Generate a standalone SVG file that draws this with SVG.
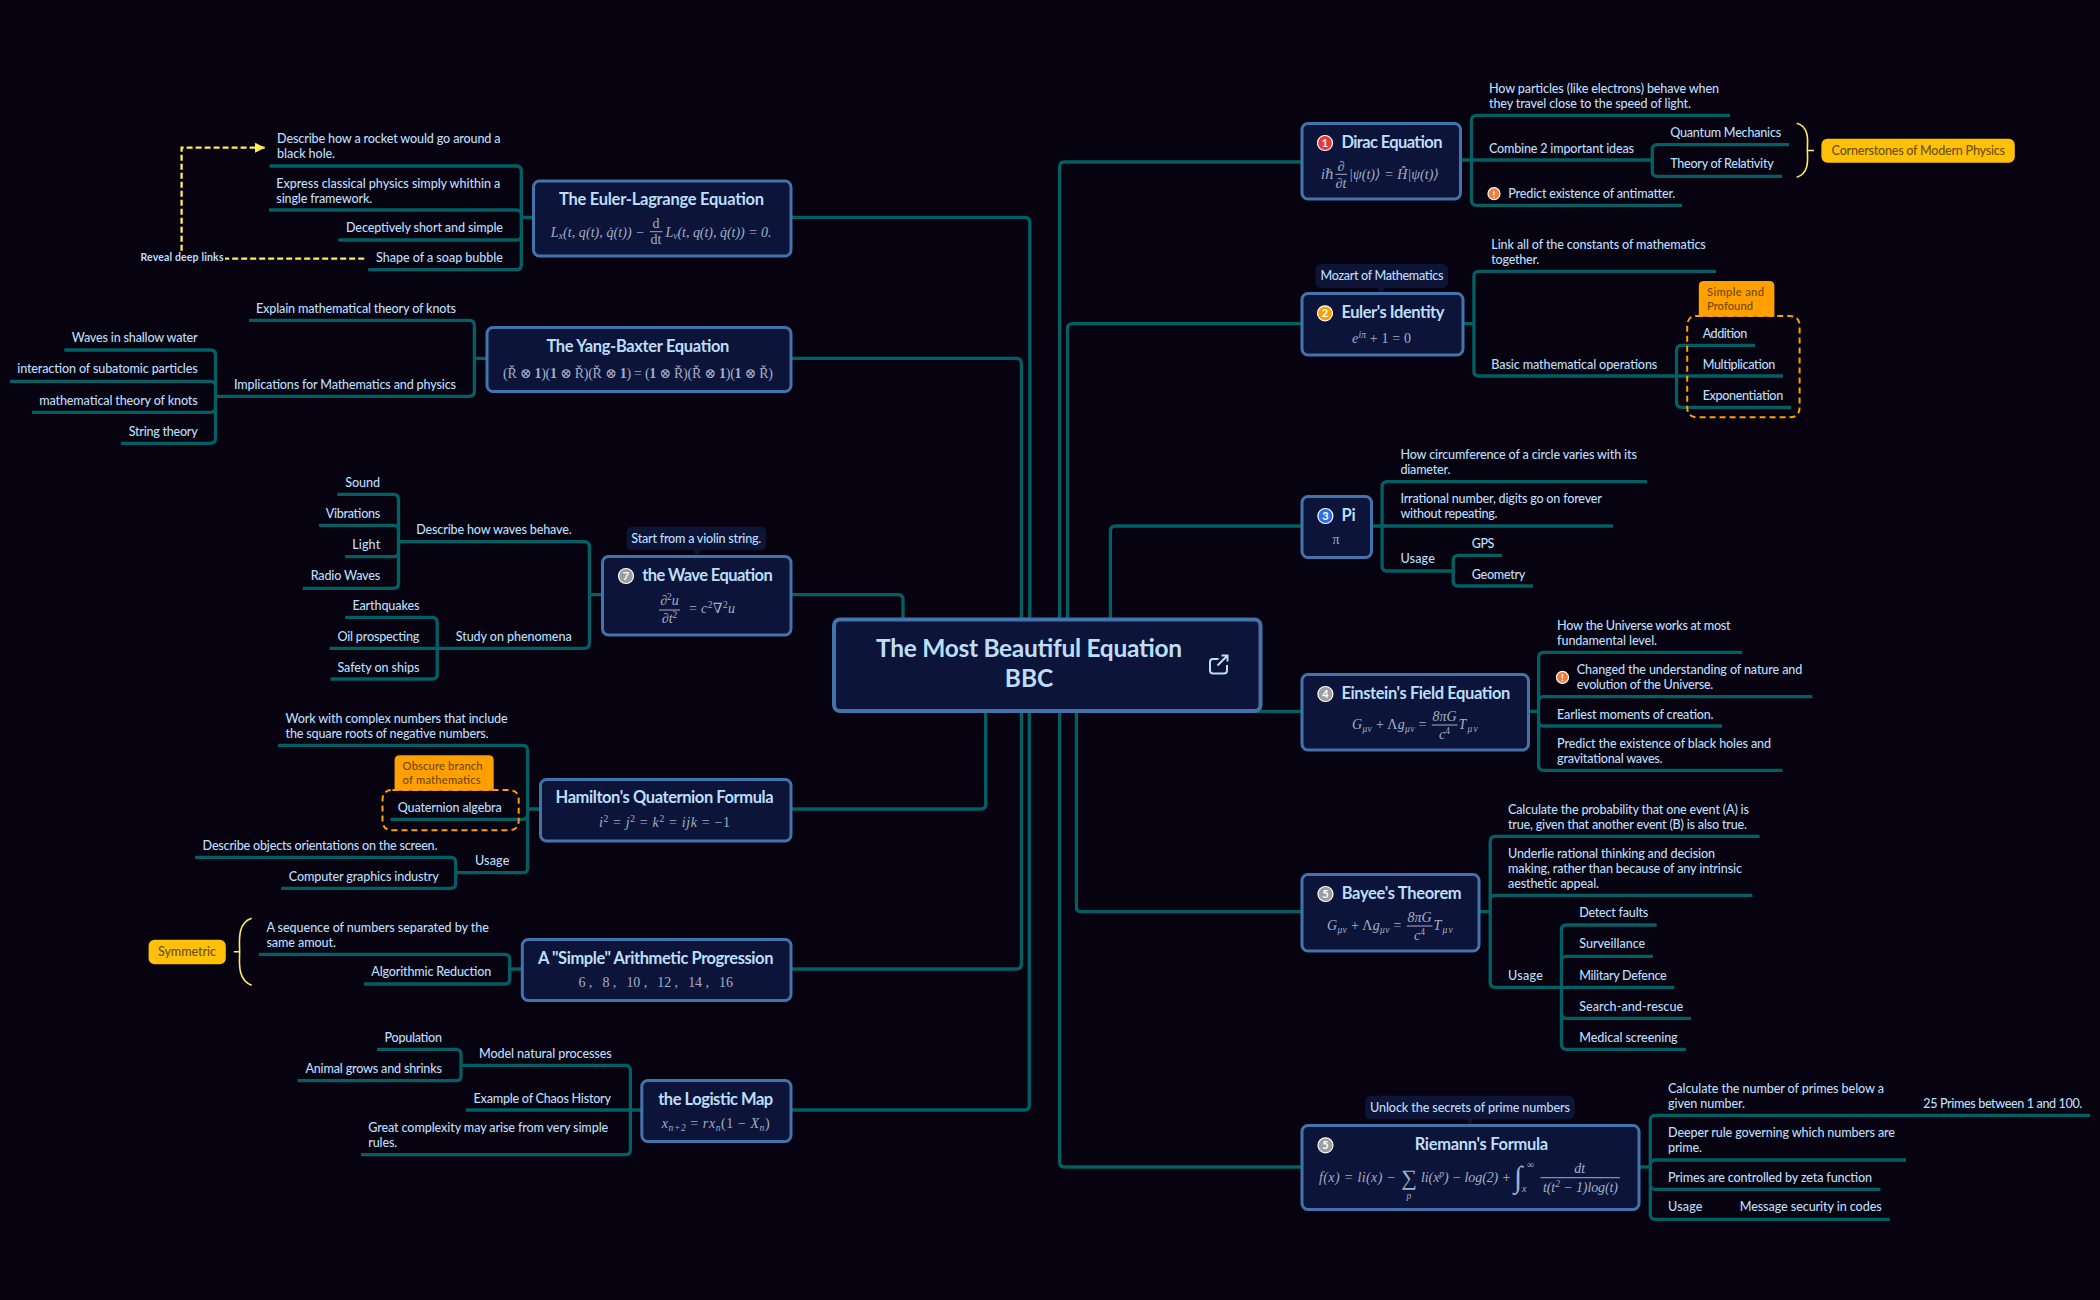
<svg xmlns="http://www.w3.org/2000/svg" width="2100" height="1300" viewBox="0 0 2100 1300">
<style>
text{font-family:"Lato","Liberation Sans",sans-serif;font-size:12.6px;font-weight:500;fill:#bbdefb}
.t{font-size:16.5px;font-weight:700}
.c{font-size:24.5px;font-weight:700;text-anchor:middle}
.m{text-anchor:middle}
.e{text-anchor:end}
.b{fill:#0c1539;stroke:#4273ab;stroke-width:3}
.co{fill:none;stroke:#006064;stroke-width:3.3}
.f{font-family:"Liberation Serif","DejaVu Serif",serif;font-size:14px;font-weight:400;fill:#a3afc6;font-style:italic}
.fn{font-style:normal}
.fl{stroke:#a3afc6;stroke-width:1}
.call{fill:#0d1436}
.dash{fill:none;stroke:#ffa000;stroke-width:2;stroke-dasharray:6 4}
.lab{fill:#ffa000}
.lt{font-size:11.2px;fill:#704800}
.sum{fill:#ffc107}
.st{fill:#6b5008}
.yl{fill:none;stroke:#ffee58;stroke-width:1.6}
.rel{fill:none;stroke:#ffee58;stroke-width:2.3;stroke-dasharray:6 3}
.i{stroke:#fff;stroke-width:1.2}
.n{font-size:11px;font-weight:700;fill:#fff;text-anchor:middle}
</style>
<defs>
<marker id="arr" markerUnits="userSpaceOnUse" markerWidth="11" markerHeight="10" refX="10" refY="5" orient="auto"><path d="M0 0L10 5L0 10Z" fill="#ffee58"/></marker>
</defs>
<rect width="2100" height="1300" fill="#07020f"/>
<g id="connectors">
<path class="co" d="M791 217.3H1024.8Q1029.8 217.3 1029.8 222.3V640M791 358.3H1016.4Q1021.4 358.3 1021.4 363.3V640M791 594.7H898Q903 594.7 903 599.7V640M791 809H980.7Q985.7 809 985.7 804V690M791 969H1016.4Q1021.4 969 1021.4 964V690M791 1110H1024.3Q1029.3 1110 1029.3 1105V690"/>
<path class="co" d="M1302 162H1064.6Q1059.6 162 1059.6 167V1162Q1059.6 1167 1064.6 1167H1302M1302 323.7H1072.5Q1067.5 323.7 1067.5 328.7V640M1302 526H1115.4Q1110.4 526 1110.4 531V640M1250 711.3H1302M1302 911.7H1081.4Q1076.4 911.7 1076.4 906.7V690"/>
<!-- Dirac -->
<path class="co" d="M1460 160H1652M1471.5 160V120.3Q1471.5 115.3 1476.5 115.3H1730M1471.5 160V200.3Q1471.5 205.3 1476.5 205.3H1682M1652.3 160V149.7Q1652.3 144.7 1657.3 144.7H1789M1652.3 160V171.3Q1652.3 176.3 1657.3 176.3H1782"/>
<!-- Euler -->
<path class="co" d="M1463 323.7H1473.9M1473.9 323.7V276.3Q1473.9 271.3 1478.9 271.3H1716M1473.9 323.7V371Q1473.9 376 1478.9 376H1783M1676.5 376V350.3Q1676.5 345.3 1681.5 345.3H1755M1676.5 376V402.3Q1676.5 407.3 1681.5 407.3H1791"/>
<!-- Pi -->
<path class="co" d="M1372 526H1613M1382.1 526V486.7Q1382.1 481.7 1387.1 481.7H1647M1382.1 526V566Q1382.1 571 1387.1 571H1453.2M1453.2 571V560.3Q1453.2 555.3 1458.2 555.3H1502M1453.2 571V581Q1453.2 586 1458.2 586H1533"/>
<!-- Einstein -->
<path class="co" d="M1528.6 711.3H1538.6M1538.6 711.3V657.3Q1538.6 652.3 1543.6 652.3H1742M1538.6 711.3V701.7Q1538.6 696.7 1543.6 696.7H1812.5M1538.6 711.3V721Q1538.6 726 1543.6 726H1722M1538.6 711.3V765.3Q1538.6 770.3 1543.6 770.3H1782.5"/>
<!-- Bayee -->
<path class="co" d="M1479 911.7H1490.2M1490.2 911.7V841.3Q1490.2 836.3 1495.2 836.3H1759.6M1490.2 911.7V900.3Q1490.2 895.3 1495.2 895.3H1752.3M1490.2 911.7V982.3Q1490.2 987.3 1495.2 987.3H1674.3M1561.4 987.3V930Q1561.4 925 1566.4 925H1656.6M1561.4 987.3V961.3Q1561.4 956.3 1566.4 956.3H1652.9M1561.4 987.3V1013.3Q1561.4 1018.3 1566.4 1018.3H1691M1561.4 987.3V1044.3Q1561.4 1049.3 1566.4 1049.3H1686"/>
<!-- Riemann -->
<path class="co" d="M1639 1167H1650.3M1650.3 1167V1120.3Q1650.3 1115.3 1655.3 1115.3H2090M1650.3 1167V1165Q1650.3 1160 1655.3 1160H1906M1650.3 1167V1184.3Q1650.3 1189.3 1655.3 1189.3H1880.4M1650.3 1167V1214.3Q1650.3 1219.3 1655.3 1219.3H1889.8"/>
<!-- Euler-Lagrange -->
<path class="co" d="M533 217.3H521.3M521.3 217.3V171Q521.3 166 516.3 166H269.6M521.3 217.3V215Q521.3 210 516.3 210H269M521.3 217.3V235Q521.3 240 516.3 240H338.3M521.3 217.3V264.7Q521.3 269.7 516.3 269.7H368.2"/>
<!-- Yang-Baxter -->
<path class="co" d="M486.5 358.3H474.4M474.4 358.3V325.3Q474.4 320.3 469.4 320.3H249M474.4 358.3V391.3Q474.4 396.3 469.4 396.3H215.5M215.5 396.3V355Q215.5 350 210.5 350H64.3M215.5 396.3V386.3Q215.5 381.3 210.5 381.3H10M215.5 396.3V407.3Q215.5 412.3 210.5 412.3H32M215.5 396.3V438.3Q215.5 443.3 210.5 443.3H120.8"/>
<!-- Wave -->
<path class="co" d="M602.5 594.7H589.4M589.4 594.7V546.7Q589.4 541.7 584.4 541.7H398.5M589.4 594.7V643.3Q589.4 648.3 584.4 648.3H329.5M398.5 541.7V499.3Q398.5 494.3 393.5 494.3H337.3M398.5 541.7V530.3Q398.5 525.3 393.5 525.3H319M398.5 541.7V551.7Q398.5 556.7 393.5 556.7H345.2M398.5 541.7V583.3Q398.5 588.3 393.5 588.3H302.8M437.2 648.3V622.3Q437.2 617.3 432.2 617.3H345.2M437.2 648.3V674Q437.2 679 432.2 679H330.5"/>
<!-- Hamilton -->
<path class="co" d="M540 809H527.6M527.6 809V750.3Q527.6 745.3 522.6 745.3H278M527.6 809V814.3Q527.6 819.3 522.6 819.3H390.5M527.6 809V867.7Q527.6 872.7 522.6 872.7H455.7M455.7 872.7V862.3Q455.7 857.3 450.7 857.3H195M455.7 872.7V883.3Q455.7 888.3 450.7 888.3H281.2"/>
<!-- Arithmetic -->
<path class="co" d="M521.8 969H509.7M509.7 969V959.3Q509.7 954.3 504.7 954.3H258.8M509.7 969V979Q509.7 984 504.7 984H364.2"/>
<!-- Logistic -->
<path class="co" d="M641.4 1110H466M630.4 1110V1070.3Q630.4 1065.3 625.4 1065.3H461M630.4 1110V1149.7Q630.4 1154.7 625.4 1154.7H361M461 1065.3V1054.3Q461 1049.3 456 1049.3H377M461 1065.3V1075.7Q461 1080.7 456 1080.7H297.5"/>
<!-- boundary and relationship lines -->
<path class="yl" d="M1796.7 123.3C1811 127 1807 145 1807.4 150C1807 155 1811 173 1796.7 177.3M1807.4 150.5H1814"/>
<path class="yl" d="M251.7 918.3C236 923 240 945 239.6 951.7C240 958 236 980 251.7 985.3M239.6 951.7H233.8"/>
<path class="rel" d="M364.2 258.7H225"/>
<path class="rel" d="M181.6 250.7V147.7H265" marker-end="url(#arr)"/>
</g>
<g id="node-root">
<rect class="b" x="834" y="619.5" width="426.5" height="91.5" rx="6" style="stroke-width:4"/>
<text class="c" x="1029" y="657" textLength="306">The Most Beautiful Equation</text>
<text class="c" x="1029" y="686.5">BBC</text>
<path d="M1218.5 659H1213Q1210 659 1210 662V670.5Q1210 673.5 1213 673.5H1224Q1227 673.5 1227 670.5V665M1217.5 665.5L1227.5 655.5M1221.5 655.5H1227.5V661.5" fill="none" stroke="#bbdefb" stroke-width="2"/>
</g>
<g id="node-dirac">
<rect class="b" x="1302" y="123.5" width="158.5" height="75.5" rx="6"/>
<circle class="i" cx="1325" cy="143" r="7.5" fill="#e53935"/><text class="n" x="1325" y="147">1</text>
<text class="t" x="1341.5" y="148" textLength="101">Dirac Equation</text>
<text class="f" x="1321" y="179">iℏ</text>
<text class="f m" x="1341" y="170.5">∂</text><path class="fl" d="M1335.5 174.3H1347"/><text class="f m" x="1341" y="188">∂t</text>
<text class="f" x="1349" y="179" textLength="90">|ψ(t)⟩ = Ĥ|ψ(t)⟩</text>
</g>
<g id="n-d1"><text x="1489" y="92.7" textLength="230">How particles (like electrons) behave when</text><text x="1489" y="107.7" textLength="202">they travel close to the speed of light.</text></g>
<g id="n-d2"><text x="1489" y="152.7" textLength="145">Combine 2 important ideas</text></g>
<g id="n-d3"><text x="1670.2" y="136.7" textLength="111">Quantum Mechanics</text></g>
<g id="n-d4"><text x="1670.2" y="167.7" textLength="103.5">Theory of Relativity</text></g>
<g id="n-d5"><circle class="i" cx="1494" cy="193.7" r="6" fill="#f4793b"/><text class="n" x="1494" y="197.7" style="font-size:10px">!</text><text x="1508.3" y="197.7" textLength="167">Predict existence of antimatter.</text></g>
<g id="summary-physics"><rect class="sum" x="1821.4" y="138.7" width="193.4" height="24" rx="6"/><text class="st" x="1831.6" y="154.7" textLength="173.5">Cornerstones of Modern Physics</text></g>
<g id="node-euler">
<path class="call" d="M1321.4 264H1442Q1448 264 1448 270V282Q1448 288 1442 288H1385L1381 293L1377 288H1321.4Q1315.4 288 1315.4 282V270Q1315.4 264 1321.4 264Z"/>
<text class="m" x="1382" y="279.7" textLength="123">Mozart of Mathematics</text>
<rect class="b" x="1302" y="293.5" width="161" height="61.5" rx="6"/>
<circle class="i" cx="1325" cy="313.3" r="7.5" fill="#ffa000"/><text class="n" x="1325" y="317.3">2</text>
<text class="t" x="1341.5" y="318" textLength="103">Euler's Identity</text>
<text class="f" x="1352" y="343.3" textLength="59">e<tspan font-size="9.5" dy="-5">iπ</tspan><tspan dy="5" class="fn"> + 1 = 0</tspan></text>
</g>
<g id="n-e1"><text x="1491.3" y="248.7" textLength="214.5">Link all of the constants of mathematics</text><text x="1491.3" y="263.7" textLength="48">together.</text></g>
<g id="n-e2"><text x="1491.3" y="368.7" textLength="166">Basic mathematical operations</text></g>
<g id="summary-simple">
<path class="dash" d="M1697.2 316H1789.6Q1799.6 316 1799.6 326V407.3Q1799.6 417.3 1789.6 417.3H1697.2Q1687.2 417.3 1687.2 407.3V326Q1687.2 316 1697.2 316Z"/>
<path class="lab" d="M1698.8 286Q1698.8 281 1703.8 281H1769.4Q1774.4 281 1774.4 286V316.7H1698.8Z"/>
<text class="lt" x="1707" y="296" textLength="57">Simple and</text><text class="lt" x="1707" y="310" textLength="46">Profound</text>
</g>
<g id="n-e3"><text x="1702.7" y="337.7" textLength="44.5">Addition</text></g>
<g id="n-e4"><text x="1702.7" y="368.7" textLength="72.5">Multiplication</text></g>
<g id="n-e5"><text x="1702.7" y="399.7" textLength="80.5">Exponentiation</text></g>
<g id="node-pi">
<rect class="b" x="1302" y="496.5" width="69.5" height="61" rx="6"/>
<circle class="i" cx="1325.4" cy="516" r="7.5" fill="#2a6fe8"/><text class="n" x="1325.4" y="520">3</text>
<text class="t" x="1341.4" y="520.7">Pi</text>
<text class="f m" x="1336" y="544" style="font-style:normal">π</text>
</g>
<g id="n-p1"><text x="1400.4" y="458.7" textLength="236.5">How circumference of a circle varies with its</text><text x="1400.4" y="473.7" textLength="50">diameter.</text></g>
<g id="n-p2"><text x="1400.4" y="502.7" textLength="201.5">Irrational number, digits go on forever</text><text x="1400.4" y="517.7" textLength="97">without repeating.</text></g>
<g id="n-p3"><text x="1400.4" y="562.7" textLength="34.5">Usage</text></g>
<g id="n-p4"><text x="1471.8" y="547.7" textLength="22.5">GPS</text></g>
<g id="n-p5"><text x="1471.8" y="578.7" textLength="53.5">Geometry</text></g>
<g id="node-einstein">
<rect class="b" x="1302" y="674.5" width="226.5" height="75.5" rx="6"/>
<circle class="i" cx="1325.4" cy="694" r="7.5" fill="#9e9e9e"/><text class="n" x="1325.4" y="698">4</text>
<text class="t" x="1341.4" y="698.7" textLength="169">Einstein's Field Equation</text>
<text class="f" x="1352" y="729" textLength="74.5">G<tspan font-size="9.5" dy="2.5">μν</tspan><tspan dy="-2.5" class="fn"> + Λ</tspan>g<tspan font-size="9.5" dy="2.5">μν</tspan><tspan dy="-2.5" class="fn"> =</tspan></text>
<text class="f m" x="1444.6" y="720.7">8πG</text><path class="fl" d="M1431.8 725H1457.5"/><text class="f m" x="1444.6" y="739.3">c<tspan font-size="9.5" dy="-5" class="fn">4</tspan></text>
<text class="f" x="1458.6" y="729" textLength="19">T<tspan font-size="9.5" dy="2.5">μν</tspan></text>
</g>
<g id="n-i1"><text x="1557.1" y="629.7" textLength="173.5">How the Universe works at most</text><text x="1557.1" y="644.7" textLength="100">fundamental level.</text></g>
<g id="n-i2"><circle class="i" cx="1562.5" cy="677.3" r="6" fill="#f4793b"/><text class="n" x="1562.5" y="681.3" style="font-size:10px">!</text><text x="1576.8" y="673.7" textLength="225.5">Changed the understanding of nature and</text><text x="1576.8" y="688.7" textLength="136.5">evolution of the Universe.</text></g>
<g id="n-i3"><text x="1557.1" y="718.7" textLength="156.5">Earliest moments of creation.</text></g>
<g id="n-i4"><text x="1557.1" y="747.7" textLength="214">Predict the existence of black holes and</text><text x="1557.1" y="762.7" textLength="105.5">gravitational waves.</text></g>
<g id="node-bayee">
<rect class="b" x="1302" y="874.5" width="177" height="76.5" rx="6"/>
<circle class="i" cx="1325.5" cy="894" r="7.5" fill="#9e9e9e"/><text class="n" x="1325.5" y="898">5</text>
<text class="t" x="1341.7" y="899" textLength="120">Bayee's Theorem</text>
<text class="f" x="1327" y="930" textLength="74.5">G<tspan font-size="9.5" dy="2.5">μν</tspan><tspan dy="-2.5" class="fn"> + Λ</tspan>g<tspan font-size="9.5" dy="2.5">μν</tspan><tspan dy="-2.5" class="fn"> =</tspan></text>
<text class="f m" x="1419.6" y="921.7">8πG</text><path class="fl" d="M1406.8 926H1432.5"/><text class="f m" x="1419.6" y="940.3">c<tspan font-size="9.5" dy="-5" class="fn">4</tspan></text>
<text class="f" x="1433.6" y="930" textLength="19">T<tspan font-size="9.5" dy="2.5">μν</tspan></text>
</g>
<g id="n-b1"><text x="1508" y="814" textLength="241">Calculate the probability that one event (A) is</text><text x="1508" y="829" textLength="239">true, given that another event (B) is also true.</text></g>
<g id="n-b2"><text x="1508" y="858" textLength="207">Underlie rational thinking and decision</text><text x="1508" y="873" textLength="234">making, rather than because of any intrinsic</text><text x="1508" y="888" textLength="91">aesthetic appeal.</text></g>
<g id="n-b3"><text x="1508" y="980" textLength="35">Usage</text></g>
<g id="n-b4"><text x="1579.2" y="916.7" textLength="69">Detect faults</text></g>
<g id="n-b5"><text x="1579.2" y="947.7" textLength="66">Surveillance</text></g>
<g id="n-b6"><text x="1579.2" y="980" textLength="87.5">Military Defence</text></g>
<g id="n-b7"><text x="1579.2" y="1010.7" textLength="104">Search-and-rescue</text></g>
<g id="n-b8"><text x="1579.2" y="1041.7" textLength="98.5">Medical screening</text></g>
<g id="node-riemann">
<path class="call" d="M1371.2 1095.7H1568.5Q1574.5 1095.7 1574.5 1101.7V1113.3Q1574.5 1119.3 1568.5 1119.3H1474L1470 1125L1466 1119.3H1371.2Q1365.2 1119.3 1365.2 1113.3V1101.7Q1365.2 1095.7 1371.2 1095.7Z"/>
<text class="m" x="1470" y="1111.7" textLength="200">Unlock the secrets of prime numbers</text>
<rect class="b" x="1302" y="1125.5" width="337" height="84" rx="6"/>
<circle class="i" cx="1325.5" cy="1145.3" r="7.5" fill="#9e9e9e"/><text class="n" x="1325.5" y="1149.3">5</text>
<text class="t m" x="1481.4" y="1150" textLength="133.5">Riemann's Formula</text>
<text class="f" x="1319" y="1181.7" textLength="77">f(x) = li(x) −</text>
<text class="f fn m" x="1409" y="1184.5" style="font-size:22px">∑</text>
<text class="f" x="1406.5" y="1199" style="font-size:9.5px">p</text>
<text class="f" x="1421" y="1181.7" textLength="90">li(x<tspan font-size="9.5" dy="-5">p</tspan><tspan dy="5">) − log(2) +</tspan></text>
<text class="f fn" x="1514" y="1187" style="font-size:30px">∫</text>
<text class="f" x="1522" y="1192" style="font-size:10px">x</text><text class="f fn" x="1527" y="1168" style="font-size:10px">∞</text>
<text class="f m" x="1579.7" y="1172.7">dt</text><path class="fl" d="M1540.5 1177.7H1620"/><text class="f" x="1543" y="1191.7" textLength="75">t(t<tspan font-size="9.5" dy="-5">2</tspan><tspan dy="5"> − 1)log(t)</tspan></text>
</g>
<g id="n-r1"><text x="1668" y="1093" textLength="216">Calculate the number of primes below a</text><text x="1668" y="1108" textLength="77">given number.</text></g>
<g id="n-r1a"><text x="1923.3" y="1108" textLength="159">25 Primes between 1 and 100.</text></g>
<g id="n-r2"><text x="1668" y="1137" textLength="227">Deeper rule governing which numbers are</text><text x="1668" y="1152" textLength="34">prime.</text></g>
<g id="n-r3"><text x="1668" y="1181.7" textLength="204">Primes are controlled by zeta function</text></g>
<g id="n-r4"><text x="1668" y="1211" textLength="34.5">Usage</text></g>
<g id="n-r5"><text x="1739.7" y="1211" textLength="142">Message security in codes</text></g>
<g id="node-lagrange">
<rect class="b" x="533.5" y="181" width="257.5" height="75" rx="6"/>
<text class="t m" x="661.5" y="205" textLength="205">The Euler-Lagrange Equation</text>
<text class="f" x="550.8" y="236.7" textLength="94">L<tspan font-size="9.5" dy="2.5">x</tspan><tspan dy="-2.5">(t, q(t), q̇(t)) −</tspan></text>
<text class="f m fn" x="656" y="228.3">d</text><path class="fl" d="M650 231.7H662.4"/><text class="f m fn" x="656" y="244.3">dt</text>
<text class="f" x="665.5" y="236.7" textLength="106">L<tspan font-size="9.5" dy="2.5">v</tspan><tspan dy="-2.5">(t, q(t), q̇(t)) = 0.</tspan></text>
</g>
<g id="n-l1"><text x="277.1" y="142.7" textLength="223.5">Describe how a rocket would go around a</text><text x="277.1" y="157.7" textLength="58">black hole.</text></g>
<g id="n-l2"><text x="276.3" y="187.7" textLength="224">Express classical physics simply whithin a</text><text x="276.3" y="202.7" textLength="96">single framework.</text></g>
<g id="n-l3"><text class="e" x="503" y="231.7" textLength="157">Deceptively short and simple</text></g>
<g id="n-l4"><text class="e" x="503" y="262" textLength="127">Shape of a soap bubble</text></g>
<g id="rel-label"><text x="140.5" y="261" textLength="83" style="font-size:10.5px;font-weight:700">Reveal deep links</text></g>
<g id="node-yang">
<rect class="b" x="487" y="327.5" width="304" height="64" rx="6"/>
<text class="t m" x="637.9" y="351.7" textLength="183">The Yang-Baxter Equation</text>
<text class="f fn" x="503" y="377.7" textLength="270">(Ř ⊗ <tspan font-weight="700">1</tspan>)(<tspan font-weight="700">1</tspan> ⊗ Ř)(Ř ⊗ <tspan font-weight="700">1</tspan>) = (<tspan font-weight="700">1</tspan> ⊗ Ř)(Ř ⊗ <tspan font-weight="700">1</tspan>)(<tspan font-weight="700">1</tspan> ⊗ Ř)</text>
</g>
<g id="n-y1"><text class="e" x="456" y="313" textLength="200">Explain mathematical theory of knots</text></g>
<g id="n-y2"><text class="e" x="456" y="389" textLength="222">Implications for Mathematics and physics</text></g>
<g id="n-y3"><text class="e" x="197.7" y="341.7" textLength="126">Waves in shallow water</text></g>
<g id="n-y4"><text class="e" x="197.7" y="372.7" textLength="180.5">interaction of subatomic particles</text></g>
<g id="n-y5"><text class="e" x="197.7" y="405" textLength="158.5">mathematical theory of knots</text></g>
<g id="n-y6"><text class="e" x="197.7" y="435.7" textLength="69">String theory</text></g>
<g id="node-wave">
<path class="call" d="M632.6 526.7H760.2Q766.2 526.7 766.2 532.7V544.3Q766.2 550.3 760.2 550.3H701L697 556L693 550.3H632.6Q626.6 550.3 626.6 544.3V532.7Q626.6 526.7 632.6 526.7Z"/>
<text class="m" x="696.3" y="542.7" textLength="130">Start from a violin string.</text>
<rect class="b" x="602.5" y="556.5" width="188.5" height="78.5" rx="6"/>
<circle class="i" cx="626" cy="576" r="7.5" fill="#9e9e9e"/><text class="n" x="626" y="580">7</text>
<text class="t" x="642.3" y="580.7" textLength="130.5">the Wave Equation</text>
<text class="f m" x="669.5" y="605">∂<tspan font-size="9.5" dy="-5" class="fn">2</tspan><tspan dy="5">u</tspan></text><path class="fl" d="M659 610H680"/><text class="f m" x="669.5" y="623.3">∂t<tspan font-size="9.5" dy="-5" class="fn">2</tspan></text>
<text class="f" x="689" y="613.3" textLength="46"><tspan class="fn">= </tspan>c<tspan font-size="9.5" dy="-5" class="fn">2</tspan><tspan dy="5" class="fn">∇</tspan><tspan font-size="9.5" dy="-5" class="fn">2</tspan><tspan dy="5">u</tspan></text>
</g>
<g id="n-w1"><text class="e" x="571.7" y="533.7" textLength="155.5">Describe how waves behave.</text></g>
<g id="n-w2"><text class="e" x="571.7" y="641" textLength="116">Study on phenomena</text></g>
<g id="n-w3"><text class="e" x="380.2" y="486.7" textLength="35">Sound</text></g>
<g id="n-w4"><text class="e" x="380.2" y="517.7" textLength="54.5">Vibrations</text></g>
<g id="n-w5"><text class="e" x="380.2" y="548.7" textLength="28">Light</text></g>
<g id="n-w6"><text class="e" x="380.2" y="579.7" textLength="69.5">Radio Waves</text></g>
<g id="n-w7"><text class="e" x="419.4" y="609.7" textLength="67">Earthquakes</text></g>
<g id="n-w8"><text class="e" x="419.4" y="640.7" textLength="82">Oil prospecting</text></g>
<g id="n-w9"><text class="e" x="419.4" y="671.7" textLength="82">Safety on ships</text></g>
<g id="node-hamilton">
<rect class="b" x="540.5" y="779.5" width="250.5" height="61.5" rx="6"/>
<text class="t m" x="664.6" y="802.7" textLength="218">Hamilton's Quaternion Formula</text>
<text class="f" x="599" y="827.3" textLength="131">i<tspan font-size="9.5" dy="-5" class="fn">2</tspan><tspan dy="5" class="fn"> = </tspan>j<tspan font-size="9.5" dy="-5" class="fn">2</tspan><tspan dy="5" class="fn"> = </tspan>k<tspan font-size="9.5" dy="-5" class="fn">2</tspan><tspan dy="5" class="fn"> = </tspan>ijk<tspan class="fn"> = −1</tspan></text>
</g>
<g id="n-h1"><text x="285.6" y="722.7" textLength="222">Work with complex numbers that include</text><text x="285.6" y="737.7" textLength="203">the square roots of negative numbers.</text></g>
<g id="summary-obscure">
<path class="dash" d="M392.5 790H508.7Q518.7 790 518.7 800V820.3Q518.7 830.3 508.7 830.3H392.5Q382.5 830.3 382.5 820.3V800Q382.5 790 392.5 790Z"/>
<path class="lab" d="M394.6 760.3Q394.6 755.3 399.6 755.3H488.7Q493.7 755.3 493.7 760.3V790.7H394.6Z"/>
<text class="lt" x="402.6" y="770" textLength="80">Obscure branch</text><text class="lt" x="402.6" y="784" textLength="78">of mathematics</text>
</g>
<g id="n-h2"><text x="397.7" y="811.7" textLength="104">Quaternion algebra</text></g>
<g id="n-h3"><text x="475" y="865" textLength="34.3">Usage</text></g>
<g id="n-h4"><text x="202.6" y="850" textLength="234.8">Describe objects orientations on the screen.</text></g>
<g id="n-h5"><text x="288.8" y="881" textLength="150">Computer graphics industry</text></g>
<g id="node-arith">
<rect class="b" x="522.3" y="939.5" width="268.7" height="61" rx="6"/>
<text class="t m" x="655.7" y="964" textLength="235.5">A "Simple" Arithmetic Progression</text>
<text class="f fn" x="578.5" y="986.7" textLength="154.5">6 ,&#160;&#160;&#160;8 ,&#160;&#160;&#160;10 ,&#160;&#160;&#160;12 ,&#160;&#160;&#160;14 ,&#160;&#160;&#160;16</text>
</g>
<g id="n-a1"><text x="266.4" y="931.7" textLength="222.5">A sequence of numbers separated by the</text><text x="266.4" y="946.7" textLength="69.5">same amout.</text></g>
<g id="n-a2"><text x="371.3" y="976" textLength="120">Algorithmic Reduction</text></g>
<g id="summary-symmetric"><rect class="sum" x="148.6" y="939.7" width="77.2" height="24.6" rx="6"/><text class="st" x="158" y="956" textLength="58">Symmetric</text></g>
<g id="node-logistic">
<rect class="b" x="641.8" y="1080.5" width="149.2" height="61" rx="6"/>
<text class="t m" x="715.7" y="1105" textLength="115">the Logistic Map</text>
<text class="f" x="661.8" y="1128" textLength="107.8">x<tspan font-size="9.5" dy="2.5">n+2</tspan><tspan dy="-2.5" class="fn"> = </tspan>rx<tspan font-size="9.5" dy="2.5">n</tspan><tspan dy="-2.5" class="fn">(1 − </tspan>X<tspan font-size="9.5" dy="2.5">n</tspan><tspan dy="-2.5" class="fn">)</tspan></text>
</g>
<g id="n-g1"><text x="479" y="1057.7" textLength="132.8">Model natural processes</text></g>
<g id="n-g2"><text x="384.6" y="1041.7" textLength="57.4">Population</text></g>
<g id="n-g3"><text x="305.4" y="1072.7" textLength="136.6">Animal grows and shrinks</text></g>
<g id="n-g4"><text x="473.6" y="1102.7" textLength="137.4">Example of Chaos History</text></g>
<g id="n-g5"><text x="368.2" y="1131.7" textLength="240">Great complexity may arise from very simple</text><text x="368.2" y="1146.7" textLength="29">rules.</text></g>
</svg>
